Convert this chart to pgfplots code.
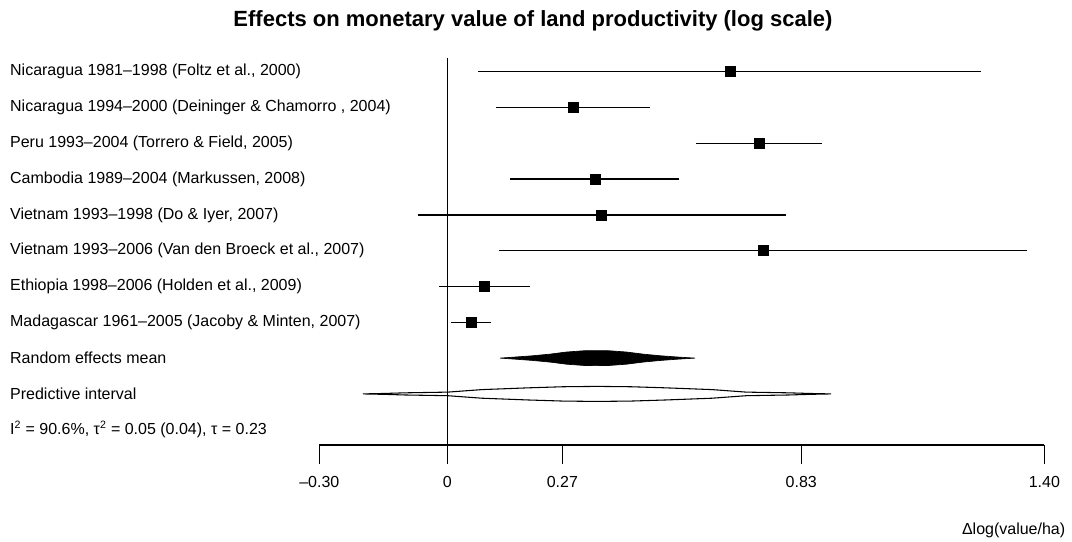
\documentclass[border=0pt]{standalone}
\usepackage{fontspec}
\setmainfont{Liberation Sans}
\usepackage{pgfplots}
\pgfplotsset{compat=1.18}
\usepackage{pgfplotstable}

% study rows: row (12 = top), estimate, lower and upper error
\pgfplotstableread{
row est em ep
11 0.663 0.590 0.589
10 0.295 0.181 0.180
9  0.731 0.147 0.147
8  0.347 0.199 0.197
7  0.362 0.430 0.432
6  0.741 0.619 0.618
5  0.086 0.105 0.107
4  0.057 0.049 0.046
}\studies

\begin{document}
\begin{tikzpicture}
\path[use as bounding box] (0,0) rectangle (804pt,406.5pt);
\begin{axis}[
    at={(239.5pt,72.75pt)}, anchor=south west,
    scale only axis, width=543.75pt, height=290.25pt,
    xmin=-0.3, xmax=1.4, ymin=0.573, ymax=11.383,
    axis x line=bottom, axis y line=none,
    axis line style={-, line width=1pt},
    xtick={-0.3,0,0.27,0.83,1.4},
    xticklabels={–0.30,0,0.27,0.83,1.40},
    tick align=outside, major tick length=14.25pt,
    tick style={line width=1pt, black},
    ticklabel style={font=\fontsize{12}{14}\selectfont},
    xticklabel style={yshift=-6pt},
    clip=false,
]
% predictive interval
\addplot[fill=white, draw=black, line width=0.8pt] coordinates {
    (-0.198,2) (-0.149,2.012) (-0.099,2.03) (0.001,2.05) (0.081,2.12)
    (0.191,2.17) (0.271,2.20) (0.351,2.21) (0.431,2.20) (0.511,2.17)
    (0.621,2.12) (0.701,2.05) (0.801,2.03) (0.851,2.012) (0.900,2)
    (0.851,1.988) (0.801,1.97) (0.701,1.95) (0.621,1.88) (0.511,1.83)
    (0.431,1.80) (0.351,1.79) (0.271,1.80) (0.191,1.83) (0.081,1.88)
    (0.001,1.95) (-0.099,1.97) (-0.149,1.988) (-0.198,2)
} --cycle;
% zero line
\addplot[black, line width=1pt] coordinates {(0,0.573) (0,11.383)};
% random effects mean
\addplot[fill=black, draw=black, line width=0.5pt] coordinates {
    (0.124,3) (0.16,3.03) (0.20,3.065) (0.24,3.11) (0.28,3.17) (0.32,3.205)
    (0.347,3.21) (0.38,3.205) (0.42,3.17) (0.46,3.11) (0.50,3.065) (0.54,3.03)
    (0.581,3) (0.54,2.97) (0.50,2.935) (0.46,2.89) (0.42,2.83) (0.38,2.795)
    (0.347,2.79) (0.32,2.795) (0.28,2.83) (0.24,2.89) (0.20,2.935) (0.16,2.97)
    (0.124,3)
} --cycle;
% studies
\addplot[only marks, mark=square*, mark size=3.75pt, black,
    error bars/.cd, x dir=both, x explicit, error mark=none,
    error bar style={line width=1.1pt, black}]
    table[x=est, y=row, x error minus=em, x error plus=ep] {\studies};

\begin{scope}[font=\fontsize{12}{14}\selectfont]
\node[anchor=west] at (axis cs:-1.036,11) {Nicaragua 1981–1998 (Foltz et al., 2000)};
\node[anchor=west] at (axis cs:-1.036,10) {Nicaragua 1994–2000 (Deininger \& Chamorro , 2004)};
\node[anchor=west] at (axis cs:-1.036,9) {Peru 1993–2004 (Torrero \& Field, 2005)};
\node[anchor=west] at (axis cs:-1.036,8) {Cambodia 1989–2004 (Markussen, 2008)};
\node[anchor=west] at (axis cs:-1.036,7) {Vietnam 1993–1998 (Do \& Iyer, 2007)};
\node[anchor=west] at (axis cs:-1.036,6) {Vietnam 1993–2006 (Van den Broeck et al., 2007)};
\node[anchor=west] at (axis cs:-1.036,5) {Ethiopia 1998–2006 (Holden et al., 2009)};
\node[anchor=west] at (axis cs:-1.036,4) {Madagascar 1961–2005 (Jacoby \& Minten, 2007)};
\node[anchor=west] at (axis cs:-1.036,3) {Random effects mean};
\node[anchor=west] at (axis cs:-1.036,2) {Predictive interval};
\node[anchor=west] at (axis cs:-1.036,1) {I\textsuperscript{2} = 90.6\%, τ\textsuperscript{2} = 0.05 (0.04), τ = 0.23};
\node[anchor=east] at (axis cs:1.46,-1.8) {Δlog(value/ha)};
\end{scope}
\node[font=\bfseries\fontsize{16.5}{19}\selectfont] at (axis cs:0.201,12.42)
    {Effects on monetary value of land productivity (log scale)};
\end{axis}
\end{tikzpicture}
\end{document}
